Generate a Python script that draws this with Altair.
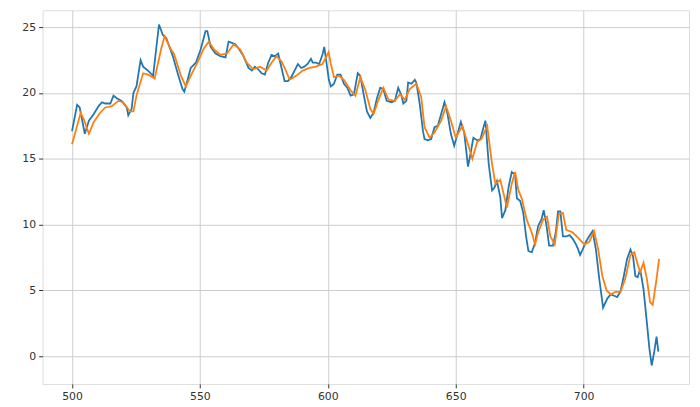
import altair as alt
import pandas as pd

blue_x = [500, 502, 503, 505, 506.6, 508.5, 510.4, 511.7, 513, 515, 516.2, 517.5, 519.4, 521.4, 522, 523.3,
          524, 525.2, 526.8, 527.8, 529.7, 531.7, 534, 535.5, 536.8, 539.4, 541.3, 543.2, 543.9, 545.2,
          546.4, 548.4, 550.3, 552.2, 552.9, 554.2, 556.1, 558, 560, 561.2, 562.5, 563.8, 565.1, 567,
          569, 570.3, 571.5, 572.8, 574.1, 575.4, 576.7, 578, 579.3, 580.6, 581.9, 583.1, 584.4, 585.7,
          587, 588.3, 589.6, 590.8, 592.1, 593.4, 594.1, 595.4, 596.6, 597.9, 598.6, 599.4, 600.4, 601.2,
          602.4, 603.7, 605, 606.3, 607.6, 608.9, 610.2, 611.7, 612.7, 614, 615.3, 616.6, 617.9, 619.2,
          620.5, 621.7, 623, 624.9, 626.2, 627.5, 628.8, 629.5, 630.7, 631.4, 632.7, 634, 634.6, 635.9,
          637.2, 637.8, 639.1, 640.4, 641.7, 643, 644.3, 645.6, 646.8, 648.1, 649.4, 650.7, 652, 653.3,
          654.8, 655.8, 656.9, 658.4, 659.7, 660.6, 661.6, 662.9, 664.2, 665.1, 666.1, 667.4, 668.1,
          669.4, 670.7, 671.9, 673.2, 673.9, 675.2, 676.4, 677.5, 678.4, 679.7, 681, 682.2, 683.5, 684.4,
          685.5, 686.5, 688, 689.1, 690, 690.9, 691.9, 693.2, 694.5, 695.8, 697, 697.7, 698.6, 699.6,
          700.9, 701.8, 703.5, 704.8, 706.1, 707.6, 709.3, 710.6, 711.9, 713.1, 714.4, 715.7, 717,
          718.3, 719.3, 720.2, 721.1, 722.1, 723.4, 724.7, 725.7, 726.6, 727.6, 728.5, 729.2]
blue_y = [17.1, 19.1, 18.9, 16.9, 17.9, 18.4, 19.0, 19.3, 19.2, 19.2, 19.8, 19.6, 19.4, 18.9, 18.3, 18.8,
          20.0, 20.5, 22.5, 22.0, 21.7, 21.3, 25.2, 24.4, 24.2, 22.8, 21.5, 20.3, 20.1, 21.0,
          21.9, 22.3, 23.3, 24.7, 24.7, 23.5, 23.0, 22.8, 22.7, 23.9, 23.8, 23.7, 23.4, 22.8,
          21.9, 21.7, 22.0, 21.8, 21.5, 21.4, 22.3, 22.9, 22.8, 23.0, 21.9, 20.9, 20.9, 21.2,
          21.7, 22.2, 21.9, 22.0, 22.2, 22.6, 22.3, 22.3, 22.2, 22.9, 23.5, 22.4, 21.0, 20.5,
          20.7, 21.4, 21.4, 20.7, 20.4, 19.8, 19.9, 21.5, 21.3, 19.9, 18.6, 18.1, 18.5, 19.6,
          20.4, 20.3, 19.4, 19.3, 19.4, 20.4, 19.8, 19.2, 19.4, 20.8, 20.7, 21.0, 20.8, 19.2,
          17.1, 16.5, 16.4, 16.5, 17.4, 17.5, 18.4, 19.3, 18.4, 16.9, 16.0, 16.9, 17.8, 17.0,
          14.4, 15.4, 16.6, 16.4, 16.5, 17.2, 17.9, 14.6, 12.6, 12.8, 13.3, 12.1, 10.5,
          11.1, 12.9, 14.0, 13.8, 12.0, 11.8, 10.9, 9.1, 8.0, 7.9, 8.6, 9.9, 10.4, 11.1,
          9.9, 8.4, 8.4, 9.4, 11.0, 11.0, 9.1, 9.1, 9.2, 8.9, 8.5, 8.2, 7.7, 8.1,
          8.7, 9.0, 9.5, 8.1, 5.9, 3.7, 4.4, 4.7, 4.6, 4.5, 4.9, 6.1, 7.4,
          8.1, 7.6, 6.1, 6.0, 6.6, 5.1, 2.6, 0.6, -0.7, 0.35, 1.5, 0.35]

orange_x = [500, 503.4, 504.6, 506.6, 508.5, 511, 513, 515.6, 518.1, 520, 522.6, 524, 525.2, 527.8, 529.7,
            532.3, 534.9, 536.2, 538.7, 539.8, 542.6, 544.5, 546.4, 549, 551.6, 553.5, 555.5, 558, 560.6,
            563.2, 565.8, 568.3, 570.9, 573.5, 576.1, 578, 579.9, 581.9, 583.1, 585.1, 587.6, 590.2,
            592.8, 595.4, 597.9, 600.3, 601.2, 602.4, 604.4, 606.3, 608.9, 610.8, 612.7, 614.7, 616.6,
            617.9, 619.8, 621.7, 623.7, 626.2, 628.2, 630.1, 632, 634.6, 636.5, 637.8, 639.8, 641.7,
            644.3, 646.2, 648.1, 650, 652.6, 654.5, 656.5, 658.4, 660, 662.3, 664.2, 665.5, 667.4,
            669.4, 670, 671.9, 673.2, 674.5, 675.8, 677.7, 679.7, 681, 682.2, 684.2, 685.7, 687, 688.7,
            690.3, 691.9, 693.2, 695.8, 698.3, 700.3, 702.2, 704.1, 705.7, 707.3, 709, 710.6, 712.5,
            714.4, 716.3, 718.3, 719.8, 721.1, 722.1, 723.4, 724.7, 726, 727, 728.3, 729.5]
orange_y = [16.1, 18.5, 18.0, 16.9, 17.8, 18.5, 18.9, 19.0, 19.4, 19.3, 18.6, 18.6, 19.8, 21.5, 21.4,
            21.1, 23.4, 24.3, 23.3, 23.0, 21.3, 20.5, 21.3, 22.3, 23.4, 23.9, 23.3, 22.9, 23.0,
            23.7, 23.3, 22.3, 21.8, 22.0, 21.7, 22.3, 22.8, 22.4, 21.9, 21.0, 21.3, 21.7,
            21.9, 22.0, 22.2, 23.1, 22.2, 21.2, 21.3, 21.0, 20.2, 19.8, 21.2, 20.2, 18.8,
            18.4, 19.5, 20.4, 19.5, 19.4, 19.9, 19.5, 20.3, 20.7, 19.7, 17.4, 16.6, 17.0,
            17.9, 19.0, 17.9, 16.6, 17.5, 16.3, 15.0, 16.3, 16.5, 17.5, 14.6, 13.1, 13.4,
            11.8, 11.3, 13.1, 14.0, 12.6, 12.0, 10.4, 9.4, 8.5, 9.4, 10.4, 10.6, 9.1, 8.5,
            10.8, 10.9, 9.6, 9.4, 8.9, 8.5, 8.7, 9.5, 8.1, 6.1, 5.0, 4.7, 4.9,
            4.9, 5.9, 7.7, 7.9, 7.0, 6.4, 7.1, 5.9, 4.1, 3.9, 5.6, 7.4]

x_ticks = [500, 550, 600, 650, 700]
y_ticks = [0, 5, 10, 15, 20, 25]

blue_df = pd.DataFrame({"x": blue_x, "y": blue_y})
orange_df = pd.DataFrame({"x": orange_x, "y": orange_y})

xs = alt.Scale(domain=[488.5, 741.2], nice=False, zero=False)
ys = alt.Scale(domain=[-2.1, 26.28], nice=False, zero=False)

x_axis = alt.Axis(values=x_ticks, title=None, grid=True, gridColor="#cccccc", gridWidth=1,
                  labelFont="DejaVu Sans", labelFontSize=11, labelColor="#333333",
                  tickColor="#333333", tickSize=4, labelPadding=3, domain=False, labelFlush=False)
y_axis = alt.Axis(values=y_ticks, title=None, grid=True, gridColor="#cccccc", gridWidth=1,
                  labelFont="DejaVu Sans", labelFontSize=11, labelColor="#333333",
                  tickColor="#333333", tickSize=4, labelPadding=3, domain=False, labelFlush=False)

blue = alt.Chart(blue_df).mark_line(color="#1f77b4", strokeWidth=1.8).encode(
    x=alt.X("x:Q", scale=xs, axis=x_axis),
    y=alt.Y("y:Q", scale=ys, axis=y_axis),
)
orange = alt.Chart(orange_df).mark_line(color="#ff7f0e", strokeWidth=1.8).encode(
    x=alt.X("x:Q", scale=xs, axis=x_axis),
    y=alt.Y("y:Q", scale=ys, axis=y_axis),
)

chart = alt.layer(blue, orange).properties(
    width=654, height=378,
    autosize=alt.AutoSizeParams(type="none"),
    padding={"left": 35, "top": 0, "right": 3, "bottom": 20},
).configure_view(stroke="#444444", strokeWidth=1.2).configure(background="white")

chart.save("out.html", embed_options={"renderer": "svg", "actions": False})
